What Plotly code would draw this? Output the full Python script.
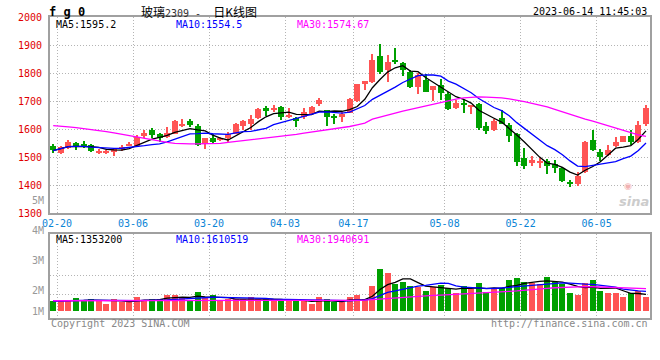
import plotly.graph_objects as go
import pandas as pd

# ---------------- data ----------------
dates = ["02-20","02-21","02-22","02-23","02-24","02-27","02-28",
         "03-01","03-02","03-03","03-06","03-07","03-08","03-09","03-10","03-13","03-14","03-15","03-16","03-17",
         "03-20","03-21","03-22","03-23","03-24","03-27","03-28","03-29","03-30","03-31",
         "04-03","04-04","04-06","04-07","04-10","04-11","04-12","04-13","04-14","04-17","04-18","04-19","04-20","04-21",
         "04-24","04-25","04-26","04-27","04-28",
         "05-04","05-05","05-08","05-09","05-10","05-11","05-12","05-15","05-16","05-17","05-18","05-19",
         "05-22","05-23","05-24","05-25","05-26","05-29","05-30","05-31",
         "06-01","06-02","06-05","06-06","06-07","06-08","06-09","06-12","06-13","06-14"]

opens = [1540,1514,1531,1550,1548,1543,1517,1517,1517,1529,
         1540,1540,1574,1595,1582,1571,1583,1612,1627,1612,
         1548,1567,1562,1567,1583,1610,1617,1638,1674,1669,
         1679,1643,1640,1643,1655,1688,1667,1648,1643,1657,
         1700,1759,1769,1859,1809,1848,1836,1805,1750,1774,
         1738,1757,1725,1674,1690,1679,1688,1610,1595,1638,
         1614,1581,1498,1479,1481,1486,1474,1460,1409,1405,
         1445,1562,1519,1507,1538,1555,1576,1552,1617]
highs = [1546,1538,1562,1555,1557,1548,1529,1526,1531,1543,
         1552,1578,1595,1602,1586,1607,1631,1636,1636,1617,
         1569,1581,1571,1588,1621,1632,1650,1676,1683,1686,
         1683,1674,1643,1676,1681,1710,1669,1652,1662,1710,
         1762,1771,1867,1905,1864,1888,1840,1812,1800,1795,
         1755,1779,1731,1705,1704,1686,1693,1624,1636,1669,
         1621,1586,1531,1505,1495,1493,1491,1464,1419,1448,
         1557,1598,1529,1543,1571,1576,1595,1629,1686]
lows = [1514,1510,1528,1526,1531,1517,1510,1512,1502,1521,
        1538,1537,1567,1567,1555,1567,1581,1607,1607,1540,
        1529,1550,1557,1555,1581,1598,1595,1635,1648,1660,
        1633,1640,1607,1636,1652,1683,1612,1619,1626,1657,
        1698,1740,1764,1795,1767,1831,1788,1745,1726,1731,
        1700,1705,1669,1671,1658,1652,1598,1581,1593,1617,
        1552,1469,1457,1467,1462,1438,1443,1412,1393,1395,
        1443,1521,1486,1505,1535,1552,1543,1550,1612]
closes = [1524,1536,1555,1540,1540,1521,1521,1521,1529,1536,
          1548,1573,1586,1580,1567,1586,1627,1619,1614,1543,
          1567,1552,1566,1581,1619,1630,1636,1671,1667,1676,
          1643,1650,1629,1660,1679,1705,1643,1640,1655,1707,
          1762,1771,1848,1802,1838,1840,1809,1750,1793,1733,
          1755,1729,1671,1694,1687,1686,1602,1593,1629,1619,
          1576,1481,1469,1491,1486,1469,1460,1414,1407,1433,
          1555,1526,1500,1526,1555,1574,1552,1615,1676]
ma30_price = [1613,1612,1609,1606,1603,1600,1596,1592,1587,1582,
              1576,1572,1567,1563,1558,1553,1550,1548,1548,1548,
              1548,1548,1550,1553,1556,1559,1563,1566,1569,1572,
              1576,1579,1582,1586,1590,1594,1598,1601,1605,1610,
              1616,1622,1636,1644,1651,1658,1665,1671,1678,1684,
              1690,1697,1703,1708,1712,1715,1716,1715,1714,1712,
              1709,1705,1699,1693,1687,1680,1671,1662,1652,1643,
              1636,1629,1621,1612,1603,1595,1587,1580,1575]
volumes = [870000,870000,870000,1100000,870000,1060000,870000,610000,1060000,780000,
           720000,1160000,960000,1060000,1060000,1390000,1390000,1100000,960000,1650000,
           1070000,1330000,810000,990000,990000,990000,1160000,990000,990000,990000,
           900000,900000,900000,900000,550000,1160000,990000,720000,720000,1190000,
           1330000,1010000,2170000,3650000,3300000,2350000,2460000,2170000,2060000,1740000,
           2030000,2230000,1970000,1570000,2170000,1880000,2430000,1650000,1880000,2000000,
           2700000,2870000,2520000,2430000,2320000,2960000,2490000,2320000,1570000,1390000,
           2430000,2700000,1740000,1570000,1570000,1220000,1570000,1680000,1220000]
ma30_volume = [890000,890000,880000,880000,880000,880000,870000,870000,870000,870000,
               870000,870000,880000,880000,880000,890000,890000,890000,890000,900000,
               900000,900000,900000,900000,900000,900000,900000,900000,890000,890000,
               890000,890000,890000,890000,880000,880000,890000,890000,900000,910000,
               930000,950000,1000000,1050000,1100000,1150000,1200000,1240000,1280000,1310000,
               1350000,1380000,1410000,1440000,1470000,1520000,1560000,1600000,1640000,1670000,
               1710000,1750000,1790000,1840000,1900000,1970000,2020000,2060000,2090000,2110000,
               2120000,2110000,2090000,2060000,2030000,2000000,1970000,1950000,1940000]

tick_dates = ["02-20","03-06","03-20","04-03","04-17","05-08","05-22","06-05"]
price_ticks = [1300,1400,1500,1600,1700,1800,1900,2000]
vol_labels = ["5M","4M","3M","2M","1M"]
price_ma_labels = ["MA5:1595.2", "MA10:1554.5", "MA30:1574.67"]
vol_ma_labels = ["MA5:1353200", "MA10:1610519", "MA30:1940691"]

# ---------------- derived ----------------
df = pd.DataFrame({"o": opens, "h": highs, "l": lows, "c": closes, "v": volumes})
x = list(range(len(dates)))
UP, DOWN = "#ff5454", "#00a000"
colors = [UP if c >= o else DOWN for o, c in zip(df.o, df.c)]
ma5 = df.c.rolling(5, min_periods=1).mean()
ma10 = df.c.rolling(10, min_periods=1).mean()
vma5 = df.v.rolling(5, min_periods=1).mean()
vma10 = df.v.rolling(10, min_periods=1).mean()
body_base = [min(o, c) for o, c in zip(df.o, df.c)]
body_h = [max(abs(c - o), 3.6) for o, c in zip(df.o, df.c)]
wick_h = list(df.h - df.l)

W, H = 660, 360
PX0, PX1 = 50, 650          # plot left/right (px)
MAIN_T, MAIN_B = 17.3, 213.3
VOL_T, VOL_B = 234.3, 318.0
STEP = 7.6                   # px per trading day
first_c = 53.2
xr0 = -(first_c - PX0) / STEP
xr1 = xr0 + (PX1 - PX0) / STEP
vol_px_per_unit = 11.5 / 1e6
vol_base_px = 311.0
vr0 = -(VOL_B - vol_base_px) / vol_px_per_unit
vr1 = (vol_base_px - VOL_T) / vol_px_per_unit
vol_grid = [(vol_base_px - 294.3) / vol_px_per_unit, (vol_base_px - 275.0) / vol_px_per_unit]

MONO = "DejaVu Sans Mono"
GRID = "#b4b4b4"
BORDER = "#a0a0a0"

fig = go.Figure()
fig.add_trace(go.Bar(x=x, base=list(df.l), y=wick_h, width=0.14, marker=dict(color=colors, line=dict(width=0)),
                     xaxis="x", yaxis="y", hoverinfo="skip"))
fig.add_trace(go.Bar(x=x, base=body_base, y=body_h, width=0.8, marker=dict(color=colors, line=dict(width=0)),
                     xaxis="x", yaxis="y", hoverinfo="skip"))
for s, col in [(ma5, "black"), (ma10, "#0000ff"), (ma30_price, "#ff00ff")]:
    fig.add_trace(go.Scatter(x=x, y=list(s), mode="lines", line=dict(color=col, width=1.3),
                             xaxis="x", yaxis="y", hoverinfo="skip"))
fig.add_trace(go.Bar(x=x, y=volumes, width=0.8, marker=dict(color=colors, line=dict(width=0)),
                     xaxis="x2", yaxis="y2", hoverinfo="skip"))
for s, col in [(vma5, "black"), (vma10, "#0000ff"), (ma30_volume, "#ff00ff")]:
    fig.add_trace(go.Scatter(x=x, y=list(s), mode="lines", line=dict(color=col, width=1.3),
                             xaxis="x2", yaxis="y2", hoverinfo="skip"))

tickvals = [dates.index(d) + 0.5 for d in tick_dates]
xdom = [PX0 / W, PX1 / W]
common_x = dict(domain=xdom, range=[xr0, xr1], showgrid=True, gridcolor=GRID, griddash="1px,2px", gridwidth=1,
                showline=True, linecolor=BORDER, linewidth=2, mirror=True, ticks="", zeroline=False,
                tickvals=tickvals, fixedrange=True, automargin=False)
common_y = dict(ticks="", showgrid=True, gridcolor=GRID, griddash="1px,2px", gridwidth=1, zeroline=False,
                showline=True, linecolor=BORDER, linewidth=2, mirror=True, fixedrange=True, automargin=False)
fig.update_layout(
    width=W, height=H, margin=dict(l=0, r=0, t=0, b=0, pad=0, autoexpand=False),
    paper_bgcolor="white", plot_bgcolor="white", showlegend=False,
    barmode="overlay", bargap=0,
    xaxis=dict(**common_x, anchor="y", ticktext=tick_dates,
               tickfont=dict(family=MONO, size=10, color="#0a84d6")),
    xaxis2=dict(**common_x, anchor="y2", matches="x", showticklabels=False),
    yaxis=dict(**common_y, domain=[1 - MAIN_B / H, 1 - MAIN_T / H], range=[1300, 2000], tickvals=price_ticks,
               tickfont=dict(family=MONO, size=10, color="#e00000"), ticklabelstandoff=4),
    yaxis2=dict(**common_y, domain=[1 - VOL_B / H, 1 - VOL_T / H], range=[vr0, vr1], tickvals=vol_grid,
                showticklabels=False),
)

def ann(text, xpx, ypx, anchor="left", size=10, color="black", family=MONO, **kw):
    fig.add_annotation(text=text, x=xpx / W, y=1 - ypx / H, xref="paper", yref="paper", xanchor=anchor,
                       yanchor="middle", showarrow=False, font=dict(family=family, size=size, color=color), **kw)

ann("<b>f g 0</b>", 47, 12, size=12)
ann('玻璃<span style="font-family:DejaVu Sans Mono;font-size:10px;color:#333">2309 -  </span>日K线图',
    139, 12, size=12, family="Noto Sans CJK SC")
ann("2023-06-14 11:45:03", 649, 12, anchor="right")
for lab, xp, col in zip(price_ma_labels, [54, 174, 295], ["black", "#0000ff", "#ff00ff"]):
    ann(lab, xp, 24.5, color=col)
for lab, xp, col in zip(vol_ma_labels, [54, 174, 295], ["black", "#0000ff", "#ff00ff"]):
    ann(lab, xp, 239.5, color=col)
for lab, ypx in zip(vol_labels, [200, 230.3, 260.3, 290.7, 311.7]):
    ann(lab, 46, ypx, anchor="right", color="#999999")
ann("Copyright 2023 SINA.COM", 49, 323.5, color="#888888")
ann("http://finance.sina.com.cn", 650, 323.5, anchor="right", color="#888888")
ann("◉", 628, 186, anchor="center", size=9, color="#f2b2b2", family="DejaVu Sans")
ann("<b><i>sina</i></b>", 634, 201, anchor="center", size=13, color="#cccccc", family="DejaVu Sans")

fig.write_html("out.html", config={"displayModeBar": False},
               post_script="document.body.style.margin='0';document.body.style.padding='0';")
